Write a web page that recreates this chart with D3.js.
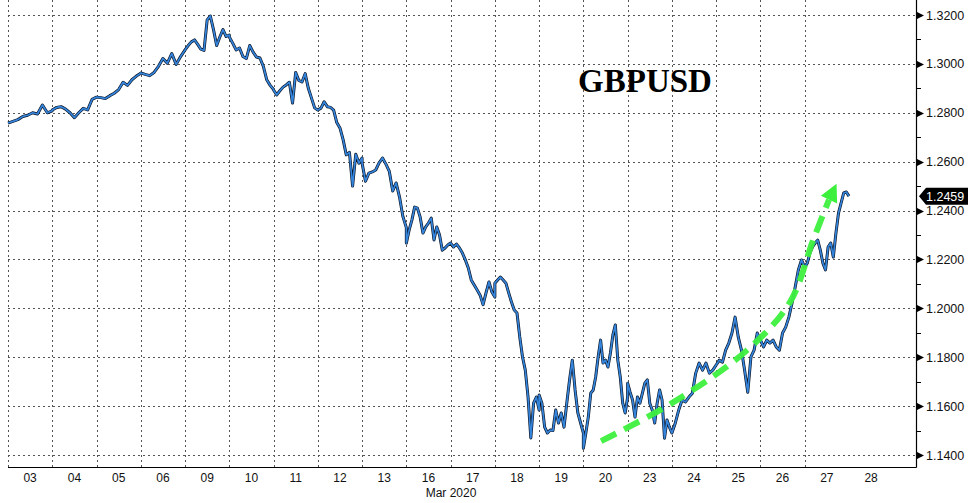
<!DOCTYPE html>
<html>
<head>
<meta charset="utf-8">
<script src="https://cdn.jsdelivr.net/npm/d3@7"></script>
<style>
  body { margin: 0; background: #fff; }
  svg { display: block; font-family: "Liberation Sans", Arial, sans-serif; }
</style>
</head>
<body>
<svg width="976" height="503"></svg>
<script>
// trading days shown on the x axis (28 is empty)
const days = ['03','04','05','06','09','10','11','12','13','16','17','18','19','20','23','24','25','26','27','28'];

// intraday prices, one list per day
const closes = [
  [1.2758, 1.2765, 1.2772, 1.2785, 1.2790, 1.2800, 1.2795, 1.2832, 1.2800, 1.2808],
  [1.2811, 1.2822, 1.2825, 1.2815, 1.2800, 1.2780, 1.2800, 1.2818, 1.2812, 1.2855, 1.2864],
  [1.2864, 1.2862, 1.2858, 1.2870, 1.2880, 1.2895, 1.2925, 1.2912, 1.2935, 1.2950, 1.2962],
  [1.2963, 1.2957, 1.2952, 1.2965, 1.2990, 1.3022, 1.3003, 1.3042, 1.2998, 1.3030, 1.3057],
  [1.3057, 1.3075, 1.3090, 1.3098, 1.3080, 1.3060, 1.3055, 1.3180, 1.3196, 1.3140, 1.3075, 1.3110, 1.3140, 1.3112, 1.3118],
  [1.3110, 1.3085, 1.3057, 1.3065, 1.3030, 1.3022, 1.3075, 1.3048, 1.3028, 1.3024, 1.2990, 1.2935, 1.2912, 1.2895],
  [1.2893, 1.2873, 1.2890, 1.2905, 1.2914, 1.2925, 1.2840, 1.2965, 1.2932, 1.2926, 1.2960, 1.2900, 1.2860, 1.2820, 1.2811],
  [1.2811, 1.2819, 1.2845, 1.2825, 1.2822, 1.2811, 1.2760, 1.2738, 1.2690, 1.2628, 1.2638, 1.2500, 1.2630, 1.2594, 1.2615],
  [1.2594, 1.2520, 1.2553, 1.2558, 1.2566, 1.2595, 1.2615, 1.2590, 1.2560, 1.2480, 1.2513, 1.2455, 1.2375, 1.2330],
  [1.2267, 1.2320, 1.2361, 1.2414, 1.2410, 1.2373, 1.2308, 1.2333, 1.2349, 1.2369, 1.2280, 1.2333, 1.2300, 1.2238, 1.2247, 1.2259, 1.2267],
  [1.2267, 1.2251, 1.2263, 1.2247, 1.2226, 1.2198, 1.2165, 1.2116, 1.2095, 1.2075, 1.2054, 1.2015, 1.2063, 1.2108, 1.2067, 1.2046],
  [1.2103, 1.2116, 1.2128, 1.2116, 1.2103, 1.2063, 1.2026, 1.1993, 1.1981, 1.1883, 1.1801, 1.1747, 1.1637, 1.1470, 1.1612, 1.1637, 1.1584],
  [1.1645, 1.1612, 1.1514, 1.1490, 1.1502, 1.1500, 1.1584, 1.1531, 1.1572, 1.1514, 1.1612, 1.1707, 1.1788, 1.1666, 1.1572, 1.1531, 1.1490],
  [1.1428, 1.1490, 1.1555, 1.1653, 1.1666, 1.1719, 1.1801, 1.1870, 1.1776, 1.1788, 1.1760, 1.1817, 1.1891, 1.1932, 1.1788, 1.1719, 1.1612, 1.1572, 1.1637],
  [1.1694, 1.1657, 1.1625, 1.1555, 1.1637, 1.1612, 1.1653, 1.1694, 1.1707, 1.1612, 1.1584, 1.1531, 1.1612, 1.1666, 1.1625, 1.1469, 1.1543, 1.1514, 1.1490],
  [1.1490, 1.1531, 1.1584, 1.1625, 1.1617, 1.1637, 1.1653, 1.1735, 1.1776, 1.1747, 1.1776, 1.1735, 1.1747, 1.1768],
  [1.1768, 1.1788, 1.1780, 1.1829, 1.1858, 1.1899, 1.1964, 1.1882, 1.1829, 1.1747, 1.1657, 1.1801, 1.1829, 1.1899, 1.1870],
  [1.1870, 1.1842, 1.1870, 1.1858, 1.1870, 1.1842, 1.1829, 1.1899, 1.1923, 1.1964, 1.2022, 1.2087, 1.2157, 1.2198, 1.2169],
  [1.2169, 1.2185, 1.2226, 1.2251, 1.2267, 1.2279, 1.2238, 1.2185, 1.2157, 1.2251, 1.2267, 1.2210, 1.2308, 1.2390, 1.2431, 1.2472, 1.2476, 1.2459]
];

const yTicks = [1.14, 1.16, 1.18, 1.20, 1.22, 1.24, 1.26, 1.28, 1.30, 1.32];
const lastPrice = 1.2459;

// green trend arrow, in day units from the first day and price
const arrowT = [13.4, 15.0, 16.7, 17.67, 18.19, 18.55];
const arrowV = [1.1457, 1.1612, 1.1829, 1.2026, 1.2279, 1.2445];
const arrowTip = [18.72, 1.2510];

const svg = d3.select('svg');
const plotL = 8, plotR = 916, plotB = 467, plotT = 0;

const x = d3.scaleBand().domain(days).range([plotL, plotL + days.length * 44.26]);
const bw = x.bandwidth();
const y = d3.scaleLinear().domain([1.14, 1.32]).range([455, 15]);
const tx = t => plotL + t * bw;

// grid
const grid = svg.append('g').attr('stroke', '#555').attr('stroke-dasharray', '2,3').attr('stroke-width', 1);
grid.selectAll('.vg').data(days.slice(0, -1)).enter().append('line')
  .attr('x1', d => Math.round(x(d)) + 0.5).attr('x2', d => Math.round(x(d)) + 0.5)
  .attr('y1', plotT).attr('y2', plotB);
grid.selectAll('.hg').data(yTicks).enter().append('line')
  .attr('x1', plotL).attr('x2', plotR)
  .attr('y1', d => Math.round(y(d)) + 0.5).attr('y2', d => Math.round(y(d)) + 0.5);

// axes lines
svg.append('line').attr('x1', plotL).attr('x2', plotR + 0.5).attr('y1', plotB + 0.5).attr('y2', plotB + 0.5)
  .attr('stroke', '#000').attr('stroke-width', 1.2);
svg.append('line').attr('x1', plotR + 0.5).attr('x2', plotR + 0.5).attr('y1', plotT).attr('y2', plotB + 0.5)
  .attr('stroke', '#000').attr('stroke-width', 1.2);

// right axis: triangles at majors, short ticks at minors, labels
const yAxis = svg.append('g');
yAxis.selectAll('.tri').data(yTicks).enter().append('path')
  .attr('d', d => { const yy = Math.round(y(d)) + 0.5; return `M${plotR + 1},${yy - 3.5}L${plotR + 8},${yy}L${plotR + 1},${yy + 3.5}Z`; })
  .attr('fill', '#000');
yAxis.selectAll('.minor').data(yTicks.slice(0, -1).map(d => d + 0.01)).enter().append('line')
  .attr('x1', plotR).attr('x2', plotR + 5)
  .attr('y1', d => Math.round(y(d)) + 0.5).attr('y2', d => Math.round(y(d)) + 0.5)
  .attr('stroke', '#000');
yAxis.selectAll('text').data(yTicks).enter().append('text')
  .attr('x', plotR + 10).attr('y', d => y(d) + 4.5)
  .attr('font-size', '12.5px').attr('fill', '#111')
  .text(d => d.toFixed(4));

// bottom labels
svg.append('g').selectAll('text').data(days).enter().append('text')
  .attr('x', d => x(d) + bw / 2).attr('y', 482)
  .attr('text-anchor', 'middle').attr('font-size', '12px').attr('fill', '#111')
  .text(d => d);
svg.append('text').attr('x', 451).attr('y', 497).attr('text-anchor', 'middle')
  .attr('font-size', '12px').attr('fill', '#111').text('Mar 2020');

// price series
const pts = [];
closes.forEach((arr, i) => {
  const x0 = x(days[i]);
  arr.forEach((v, j) => pts.push([x0 + bw * j / (arr.length - 1), v]));
});
const line = d3.line().x(d => d[0]).y(d => y(d[1]));
svg.append('path').datum(pts).attr('d', line)
  .attr('fill', 'none').attr('stroke', '#0b1526').attr('stroke-width', 3).attr('stroke-linejoin', 'round');
svg.append('path').datum(pts).attr('d', line)
  .attr('fill', 'none').attr('stroke', '#3585dc').attr('stroke-width', 1.7).attr('stroke-linejoin', 'round');

// green dashed trend arrow
const arrowPts = arrowT.map((t, i) => [tx(t), y(arrowV[i])]);
svg.append('path').datum(arrowPts)
  .attr('d', d3.line().curve(d3.curveCatmullRom))
  .attr('fill', 'none').attr('stroke', '#3ef03e').attr('stroke-width', 6)
  .attr('stroke-dasharray', '17,9').attr('opacity', 0.95);
{
  const [bx, by] = arrowPts[arrowPts.length - 1];
  const tipX = tx(arrowTip[0]), tipY = y(arrowTip[1]);
  const dx = tipX - bx, dy = tipY - by, len = Math.hypot(dx, dy);
  const nx = -dy / len, ny = dx / len, w = 9;
  svg.append('path')
    .attr('d', `M${tipX},${tipY}L${bx + nx * w},${by + ny * w}L${bx - nx * w},${by - ny * w}Z`)
    .attr('fill', '#3ef03e');
}

// last price tag
{
  const yc = y(lastPrice);
  svg.append('path')
    .attr('d', `M${plotR + 3},${yc}L${plotR + 10},${yc - 8.5}L${plotR + 52},${yc - 8.5}L${plotR + 52},${yc + 8.5}L${plotR + 10},${yc + 8.5}Z`)
    .attr('fill', '#000');
  svg.append('text').attr('x', plotR + 10).attr('y', yc + 4.5)
    .attr('font-size', '12.5px').attr('fill', '#fff').text(lastPrice.toFixed(4));
}

// title
svg.append('text').attr('x', 645).attr('y', 92).attr('text-anchor', 'middle')
  .attr('font-family', '"Liberation Serif", "Times New Roman", serif')
  .attr('font-weight', 'bold').attr('font-size', '33px').attr('fill', '#000')
  .text('GBPUSD');
</script>
</body>
</html>
